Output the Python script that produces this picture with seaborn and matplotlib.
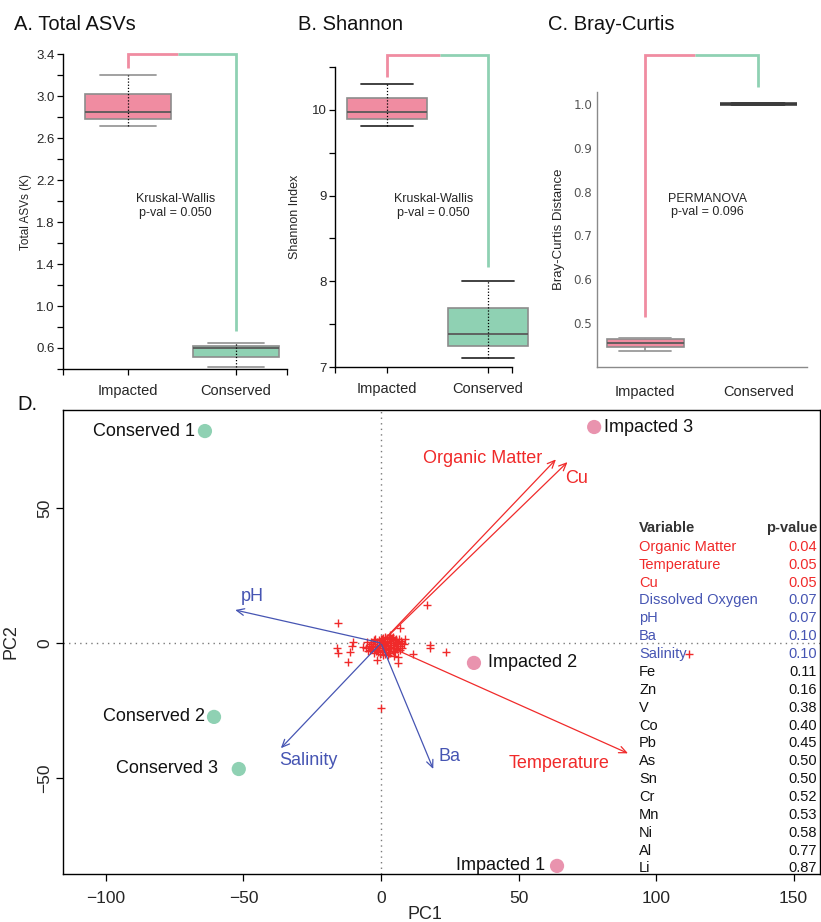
import matplotlib

matplotlib.use("Agg")

import matplotlib.pyplot as plt
import numpy as np
import pandas as pd
import seaborn as sns

# ---- data ----
groups = ["Impacted", "Conserved"]

asv_impacted = [2.71, 2.78, 2.85, 3.02, 3.20]
asv_conserved = [0.42, 0.51, 0.60, 0.62, 0.65]
shannon_impacted = [9.81, 9.89, 9.97, 10.14, 10.30]
shannon_conserved = [7.10, 7.24, 7.38, 7.69, 8.00]
bray_impacted = [0.436, 0.445, 0.455, 0.463, 0.466]
bray_conserved = [1.0, 1.0, 1.0, 1.0, 1.0]

site_names = ["Conserved 1", "Conserved 2", "Conserved 3", "Impacted 1", "Impacted 2", "Impacted 3"]
site_group = ["Conserved", "Conserved", "Conserved", "Impacted", "Impacted", "Impacted"]
site_pc1 = [-64.0, -60.7, -51.7, 64.0, 33.8, 77.5]
site_pc2 = [78.5, -27.4, -46.7, -82.6, -7.4, 80.0]

vector_names = ["pH", "Salinity", "Ba", "Organic Matter", "Cu", "Temperature"]
vector_pc1 = [-53.0, -36.4, 19.0, 63.6, 67.8, 89.8]
vector_pc2 = [12.2, -39.0, -46.7, 68.0, 67.0, -40.9]

taxa_pc1 = [-15.6, -16.0, -15.5, -12.0, -11.3, -10.0, -10.5, -1.5, 0.0, 6.2, 6.2, 11.6,
            8.8, 16.8, 6.9, 17.8, 17.8, 23.6, 7.6, 8.5, 112.0, 3.3, -6.5,
            -5.5, -4.5, -3.8, -3.2, -2.8, -2.5, -2.0, -1.6, -1.2, -0.8, -0.5, -0.2,
            0.2, 0.5, 0.8, 1.0, 1.3, 1.6, 1.9, 2.2, 2.5, 2.8, 3.1, 3.4, 3.7, 4.0,
            4.3, 4.6, 5.0, 5.3, 5.7, 6.1, 6.5, 7.0, 7.4, -3.5, -1.0, 0.0, 2.0, 3.0,
            4.8, -2.2, 1.2, 2.6, 3.8, 0.3, -0.6, 5.5, 6.8, -4.0, 1.5, 3.3, 4.4,
            -1.8, 2.3, 0.7, -4.8, -3.0, -1.4, 0.4, 1.8, 3.6, 5.2, 6.0, -2.4, -0.2,
            1.1, 2.9, 4.2, 5.9, -5.0, 0.9, 2.4, 4.9, 7.8, -3.6]
taxa_pc2 = [7.4, -1.9, -3.8, -7.0, -3.2, 0.4, -1.1, -6.3, -24.0, -5.1, -7.6, -4.0,
            1.4, 14.1, 5.5, -0.7, -1.9, -3.4, 0.0, -0.3, -4.0, 3.0, -1.5,
            -2.0, -1.0, 0.5, -2.4, -0.5, 1.2, -1.5, 0.3, -2.6, 1.0, -0.8, 0.4,
            -1.8, 1.6, -0.3, 0.9, -1.1, 2.2, -0.6, 0.3, -2.2, 1.3, -0.2, 0.8, -1.4,
            2.0, 0.1, -0.9, 1.1, -2.0, 0.4, -0.5, 1.6, -1.0, 0.6, -1.4, -3.5, 1.6,
            -3.2, 1.9, -3.0, 1.5, 0.0, -0.9, 1.4, -0.2, -1.9, 1.4, -2.6, -2.6,
            -4.0, -3.8, 2.3, -3.0, 1.8, 2.0, -3.0, -1.2, -1.0, -2.8, -2.5, -1.7,
            -3.3, -2.1, -3.9, -4.2, -2.0, -3.6, -2.9, -1.2, 0.2, -4.6, -4.4, -4.8,
            -1.8, -0.4]

table_vars = ["Organic Matter", "Temperature", "Cu", "Dissolved Oxygen", "pH", "Ba",
              "Salinity", "Fe", "Zn", "V", "Co", "Pb", "As", "Sn", "Cr", "Mn", "Ni",
              "Al", "Li"]
table_p = [0.04, 0.05, 0.05, 0.07, 0.07, 0.10, 0.10, 0.11, 0.16, 0.38, 0.40, 0.45,
           0.50, 0.50, 0.52, 0.53, 0.58, 0.77, 0.87]

# ---- style ----
PINK = "#F08CA1"
GREEN = "#8FD1B3"
DOT_PINK = "#E993AE"
RED = "#F02A2A"
BLUE = "#4655B3"
W, H = 821, 922

sns.set_theme(style="ticks")
plt.rcParams["font.family"] = ["Liberation Sans", "DejaVu Sans"]


def px_axes(fig, left, top, right, bottom):
    return fig.add_axes([left / W, 1 - bottom / H, (right - left) / W, (bottom - top) / H])


def box_panel(ax, impacted, conserved, width, capw, cap_color, dotted=True):
    df = pd.DataFrame({
        "group": ["Impacted"] * len(impacted) + ["Conserved"] * len(conserved),
        "value": impacted + conserved,
    })
    sns.boxplot(
        data=df, x="group", y="value", hue="group", order=groups, hue_order=groups,
        palette=[PINK, GREEN], saturation=1, width=width, whis=3,
        linecolor="#8c8c8c", linewidth=1.2, legend=False, ax=ax,
        capwidths=capw,
        whiskerprops={"linewidth": 0 if dotted else 1.2},
        capprops={"color": cap_color, "linewidth": 1.3},
        medianprops={"color": "#5a5a5a", "linewidth": 1.3},
    )
    if dotted:
        for i, vals in enumerate([impacted, conserved]):
            ax.vlines(i, min(vals), max(vals), colors="black", linestyles=(0, (1, 1.5)),
                      linewidth=0.9, zorder=6)


def bracket(ax, top, drop_pink, drop_green, mid):
    kw = dict(lw=2.0, clip_on=False, solid_capstyle="butt", solid_joinstyle="miter")
    ax.plot([0, 0, mid], [drop_pink, top, top], color=PINK, **kw)
    ax.plot([mid, 1, 1], [top, top, drop_green], color=GREEN, **kw)


fig = plt.figure(figsize=(W / 100, H / 100), dpi=100)

# ---- A. Total ASVs ----
axa = px_axes(fig, 63, 54, 287, 369)
box_panel(axa, asv_impacted, asv_conserved, 0.79, 0.52, "#9a9a9a")
axa.set_xlim(-0.6, 1.47)
axa.set_ylim(0.4, 3.4)
axa.set_yticks(np.arange(0.6, 3.41, 0.4))
axa.set_yticklabels([f"{v:.1f}" for v in np.arange(0.6, 3.41, 0.4)])
axa.set_yticks(np.arange(0.4, 3.3, 0.4), minor=True)
axa.set_xticks([-0.6, 0, 1, 1.47])
axa.set_xticklabels(["", "Impacted", "Conserved", ""])
axa.set_xlabel("")
axa.set_ylabel("Total ASVs (K)", fontsize=8.5, labelpad=3)
bracket(axa, 3.4, 3.27, 0.76, 0.46)
axa.text(0.44, 1.95, "Kruskal-Wallis\np-val = 0.050", ha="center", va="center", fontsize=9)

# ---- B. Shannon ----
axb = px_axes(fig, 335, 67, 533, 367)
box_panel(axb, shannon_impacted, shannon_conserved, 0.79, 0.52, "#333333")
axb.set_xlim(-0.515, 1.445)
axb.set_ylim(7, 10.5)
axb.spines["bottom"].set_bounds(-0.515, 1.24)
axb.set_yticks([7, 8, 9, 10])
axb.set_yticks([7.5, 8.5, 9.5, 10.5], minor=True)
axb.set_xticks([-0.515, 0, 1, 1.24])
axb.set_xticklabels(["", "Impacted", "Conserved", ""])
axb.set_xlabel("")
axb.set_ylabel("Shannon Index", fontsize=9, labelpad=8)
bracket(axb, 10.64, 10.38, 8.17, 0.52)
axb.text(0.46, 8.88, "Kruskal-Wallis\np-val = 0.050", ha="center", va="center", fontsize=9)

for ax in (axa, axb):
    sns.despine(ax=ax)
    for side in ("left", "bottom"):
        ax.spines[side].set_color("black")
        ax.spines[side].set_linewidth(1.0)
    ax.tick_params(which="both", direction="out", length=4, width=0.9, color="black")
    ax.tick_params(axis="y", labelsize=9.5, pad=2)
    ax.tick_params(axis="x", labelsize=10.5, pad=7)

# ---- C. Bray-Curtis ----
axc = px_axes(fig, 597, 92, 807, 367)
box_panel(axc, bray_impacted, bray_conserved, 0.68, 0.46, "#9a9a9a", dotted=False)
for ln in axc.lines:
    y = ln.get_ydata()
    if len(y) == 2 and y[0] == y[1] == 1.0:
        ln.set_color("#3c3c3c")
        ln.set_linewidth(2.6)
axc.set_xlim(-0.425, 1.43)
axc.set_ylim(0.40, 1.027)
axc.set_yticks([0.5, 0.6, 0.7, 0.8, 0.9, 1.0])
axc.set_xlabel("")
axc.set_ylabel("Bray-Curtis Distance", fontsize=9.5, labelpad=6)
sns.despine(ax=axc)
for side in ("left", "bottom"):
    axc.spines[side].set_color("#8a8a8a")
    axc.spines[side].set_linewidth(1.0)
axc.tick_params(length=0)
axc.tick_params(axis="x", labelsize=10.5, pad=13)
for lab in axc.get_yticklabels():
    lab.set_fontfamily("DejaVu Sans")
    lab.set_fontsize(8.6)
    lab.set_color("#555555")
bracket(axc, 1.112, 0.513, 1.039, 0.44)
axc.text(0.55, 0.768, "PERMANOVA\np-val = 0.096", ha="center", va="center", fontsize=9)

# ---- D. biplot ----
axd = px_axes(fig, 63, 410, 820, 874)
axd.axhline(0, color="#7a7a7a", lw=1.0, ls=(0, (1, 3)), zorder=0)
axd.axvline(0, color="#7a7a7a", lw=1.0, ls=(0, (1, 3)), zorder=0)

sns.scatterplot(x=taxa_pc1, y=taxa_pc2, marker="+", color=RED, s=30, linewidth=1.0,
                ax=axd, zorder=3)

vec_color = {"pH": BLUE, "Salinity": BLUE, "Ba": BLUE,
             "Organic Matter": RED, "Cu": RED, "Temperature": RED}
vec_label = {  # offset in points from arrow tip, alignment
    "pH": ((4, 10), "left"),
    "Salinity": ((-1, -9), "left"),
    "Ba": ((4, 9), "left"),
    "Organic Matter": ((-10, 1), "right"),
    "Cu": ((-2, -12), "left"),
    "Temperature": ((-13, -7), "right"),
}
for name, vx, vy in zip(vector_names, vector_pc1, vector_pc2):
    c = vec_color[name]
    axd.annotate("", xy=(vx, vy), xytext=(0, 0),
                 arrowprops=dict(arrowstyle="->,head_length=0.45,head_width=0.2",
                                 color=c, lw=0.9, shrinkA=0, shrinkB=0), zorder=4)
    off, ha = vec_label[name]
    axd.annotate(name, xy=(vx, vy), xytext=off, textcoords="offset points",
                 ha=ha, va="center", color=c, fontsize=13)

sites = pd.DataFrame({"name": site_names, "group": site_group, "PC1": site_pc1, "PC2": site_pc2})
sns.scatterplot(data=sites, x="PC1", y="PC2", hue="group",
                palette={"Conserved": GREEN, "Impacted": DOT_PINK},
                s=105, edgecolor="none", legend=False, ax=axd, zorder=5)
site_off = {"Conserved 1": -7, "Conserved 2": -6.5, "Conserved 3": -15,
            "Impacted 1": -8.5, "Impacted 2": 10, "Impacted 3": 7}
for _, r in sites.iterrows():
    dx = site_off[r["name"]]
    axd.annotate(r["name"], xy=(r["PC1"], r["PC2"]), xytext=(dx, 0),
                 textcoords="offset points", ha="right" if dx < 0 else "left",
                 va="center", fontsize=13, color="#111111")

axd.set_xlim(-115.6, 159.6)
axd.set_ylim(-85.6, 86.3)
axd.set_xticks([-100, -50, 0, 50, 100, 150])
axd.set_yticks([-50, 0, 50])
axd.set_xlabel("PC1", fontsize=13)
axd.set_ylabel("PC2", fontsize=13)
axd.xaxis.set_label_coords(0.478, -0.07)
axd.yaxis.set_label_coords(-0.058, 0.5)
for side in axd.spines.values():
    side.set_visible(True)
    side.set_color("black")
    side.set_linewidth(1.0)
axd.tick_params(direction="out", length=5, width=0.9, color="black", labelsize=12.5)
axd.tick_params(axis="x", pad=7)
axd.tick_params(axis="y", pad=3)
for lab in axd.get_yticklabels():
    lab.set_rotation(90)
    lab.set_va("center")

# p-value table
row0, step = 0.705, 0.0385
axd.text(0.761, row0 + 0.041, "Variable", transform=axd.transAxes, fontsize=10.5,
         fontweight="bold", color="#333333", va="center", ha="left")
axd.text(0.996, row0 + 0.041, "p-value", transform=axd.transAxes, fontsize=10.5,
         fontweight="bold", color="#333333", va="center", ha="right")
for i, (var, p) in enumerate(zip(table_vars, table_p)):
    c = RED if p <= 0.05 else (BLUE if p <= 0.10 else "#111111")
    y = row0 - i * step
    axd.text(0.761, y, var, transform=axd.transAxes, fontsize=10.5, color=c,
             va="center", ha="left")
    axd.text(0.996, y, f"{p:.2f}", transform=axd.transAxes, fontsize=10.5, color=c,
             va="center", ha="right")

# panel titles
for x, y, t in [(14, 24, "A. Total ASVs"), (298, 25, "B. Shannon"),
                (548, 25, "C. Bray-Curtis"), (17, 405, "D.")]:
    fig.text(x / W, 1 - y / H, t, fontsize=14.5, ha="left", va="center", color="#111111")

fig.savefig("out.png", dpi=100)
plt.close(fig)
